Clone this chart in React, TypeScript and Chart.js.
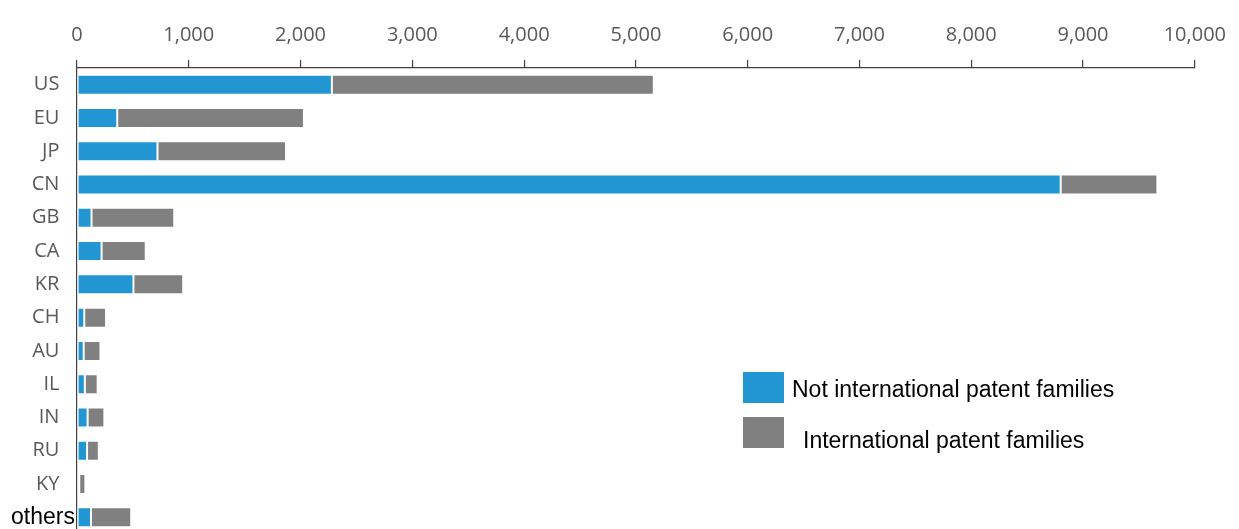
import React, { useEffect, useRef } from "react";
import { Chart, registerables } from "chart.js";

Chart.register(...registerables);

const categories = ["US", "EU", "JP", "CN", "GB", "CA", "KR", "CH", "AU", "IL", "IN", "RU", "KY", "others"];
const notInternational = [2280, 360, 720, 8800, 130, 220, 505, 65, 60, 70, 95, 90, 20, 125];
const international = [2880, 1670, 1150, 865, 740, 395, 445, 195, 150, 115, 150, 105, 55, 360];
const xTicks = [0, 1000, 2000, 3000, 4000, 5000, 6000, 7000, 8000, 9000, 10000];
const seriesNames = ["Not international patent families", "International patent families"];

const BLUE = "#2196D3";
const GRAY = "#808080";

export default function App() {
  const ref = useRef<HTMLCanvasElement | null>(null);

  useEffect(() => {
    if (!ref.current) return;
    const chart = new Chart(ref.current, {
      type: "bar",
      data: {
        labels: categories,
        datasets: [
          {
            label: seriesNames[0],
            data: notInternational,
            backgroundColor: BLUE,
            borderColor: "rgba(255,255,255,0.6)",
            borderWidth: 1,
            borderSkipped: false,
            barPercentage: 0.6,
            categoryPercentage: 1,
          },
          {
            label: seriesNames[1],
            data: international,
            backgroundColor: GRAY,
            borderColor: "rgba(255,255,255,0.6)",
            borderWidth: 1,
            borderSkipped: false,
            barPercentage: 0.6,
            categoryPercentage: 1,
          },
        ],
      },
      options: {
        indexAxis: "y",
        responsive: false,
        animation: false,
        layout: { padding: { left: 0, right: 42, top: 0, bottom: 0 } },
        plugins: { legend: { display: false }, tooltip: { enabled: false } },
        scales: {
          x: {
            position: "top",
            stacked: true,
            min: 0,
            max: 10000,
            afterBuildTicks: (scale: any) => {
              scale.ticks = xTicks.map((v) => ({ value: v }));
            },
            afterFit: (scale: any) => {
              scale.height = 68;
            },
            ticks: {
              color: "#595959",
              font: { family: "Open Sans", size: 20 },
              padding: 13,
              maxRotation: 0,
              autoSkip: false,
              callback: (v: any) => Number(v).toLocaleString("en-US"),
            },
            grid: {
              drawOnChartArea: false,
              drawTicks: true,
              tickLength: 8,
              color: "#404040",
              lineWidth: 1.2,
            },
            border: { display: true, color: "#404040", width: 1.2 },
          },
          y: {
            stacked: true,
            afterFit: (scale: any) => {
              scale.width = 77;
            },
            ticks: {
              color: (ctx: any) => (ctx.index === categories.length - 1 ? "#000000" : "#595959"),
              font: (ctx: any) =>
                ctx.index === categories.length - 1
                  ? { family: "Liberation Sans", size: 23 }
                  : { family: "Open Sans", size: 20 },
              padding: 2,
              autoSkip: false,
              callback: (_v: any, i: number) =>
                i === categories.length - 1 ? categories[i] : categories[i] + "   ",
            },
            grid: { drawOnChartArea: false, drawTicks: false },
            border: { display: true, color: "#404040", width: 1.2 },
          },
        },
      },
    });
    return () => chart.destroy();
  }, []);

  const legendText: React.CSSProperties = {
    position: "absolute",
    fontFamily: "Liberation Sans, Arial, sans-serif",
    fontSize: 23,
    color: "#000",
    whiteSpace: "nowrap",
    lineHeight: "26px",
  };

  return (
    <div style={{ position: "absolute", left: 0, top: 0, width: 1239, height: 548, background: "#fff" }}>
      <canvas ref={ref} width={1239} height={548} style={{ display: "block" }} />
      <div style={{ position: "absolute", left: 743, top: 372, width: 41, height: 31, background: BLUE }} />
      <div style={{ ...legendText, left: 792, top: 376 }}>{seriesNames[0]}</div>
      <div style={{ position: "absolute", left: 743, top: 417, width: 41, height: 31, background: GRAY }} />
      <div style={{ ...legendText, left: 803, top: 427 }}>{seriesNames[1]}</div>
    </div>
  );
}
